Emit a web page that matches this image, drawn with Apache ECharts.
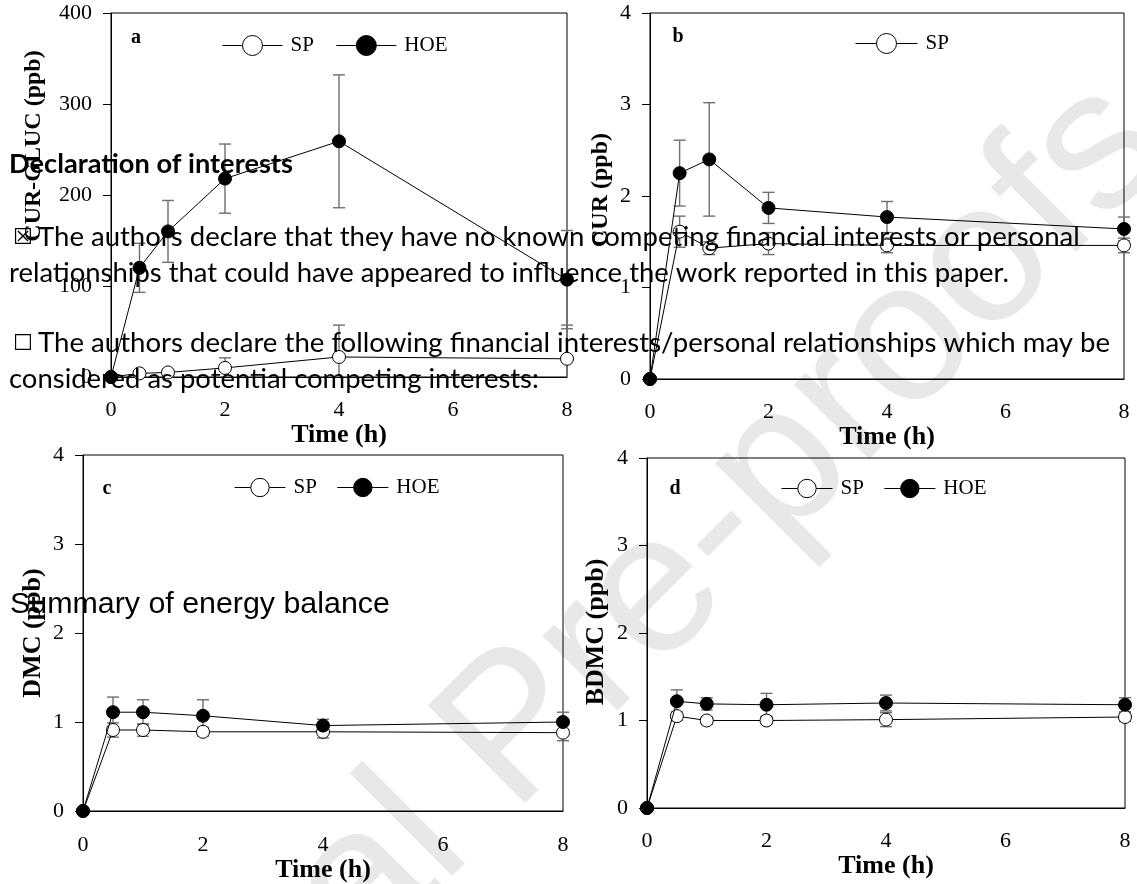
<!DOCTYPE html>
<html>
<head>
<meta charset="utf-8">
<script src="https://cdn.jsdelivr.net/npm/echarts@6/dist/echarts.min.js"></script>
<style>
  html, body { margin: 0; padding: 0; background: #fff; }
  #chart { width: 1137px; height: 884px; }
</style>
</head>
<body>
<div id="chart"></div>
<script>
// sampling times (h)
const times = [0, 0.5, 1, 2, 4, 8];

// a: CUR-GLUC (ppb)
const curGlucSp = [0, 4, 5, 10, 22, 20];
const curGlucSpErr = [0, 3, 3, 11, 35, 37];
const curGlucHoe = [0, 120, 160, 218, 259, 107];
const curGlucHoeErr = [0, 27, 34, 38, 73, 54];

// b: CUR (ppb)
const curSp = [0, 1.61, 1.43, 1.48, 1.46, 1.46];
const curSpErr = [0, 0.17, 0.07, 0.12, 0.08, 0.08];
const curHoe = [0, 2.25, 2.40, 1.87, 1.77, 1.64];
const curHoeErr = [0, 0.36, 0.62, 0.17, 0.17, 0.13];

// c: DMC (ppb)
const dmcSp = [0, 0.91, 0.91, 0.89, 0.89, 0.88];
const dmcSpErr = [0, 0.08, 0.07, 0.05, 0.07, 0.09];
const dmcHoe = [0, 1.11, 1.11, 1.07, 0.96, 1.00];
const dmcHoeErr = [0, 0.17, 0.14, 0.18, 0.07, 0.11];

// d: BDMC (ppb)
const bdmcSp = [0, 1.05, 1.00, 1.00, 1.01, 1.04];
const bdmcSpErr = [0, 0.05, 0.04, 0.04, 0.08, 0.05];
const bdmcHoe = [0, 1.22, 1.19, 1.18, 1.20, 1.18];
const bdmcHoeErr = [0, 0.13, 0.07, 0.13, 0.09, 0.08];

const xTicks = [0, 2, 4, 6, 8];

const serif = "'Liberation Serif', 'Times New Roman', serif";

const panels = [
  {
    letter: "a", yName: "CUR-GLUC (ppb)", yMax: 400, yStep: 100,
    sp: curGlucSp, spErr: curGlucSpErr, hoe: curGlucHoe, hoeErr: curGlucHoeErr,
    legend: ["SP", "HOE"],
    grid: { left: 111, top: 13, width: 456, height: 364 },
    labelMargin: 22, nameGap: 38,
    legendPos: { left: 217, top: 30, itemWidth: 60, itemHeight: 25, itemGap: 22 },
    letterPos: [136, 38], yNamePos: [34, 146], yNameSize: 24,
  },
  {
    letter: "b", yName: "CUR (ppb)", yMax: 4, yStep: 1,
    sp: curSp, spErr: curSpErr, hoe: curHoe, hoeErr: curHoeErr,
    legend: ["SP"],
    grid: { left: 650, top: 13, width: 474, height: 366 },
    labelMargin: 22, nameGap: 36,
    legendPos: { left: 850, top: 28, itemWidth: 62, itemHeight: 25, itemGap: 22 },
    letterPos: [678, 37], yNamePos: [601, 190], yNameSize: 24,
  },
  {
    letter: "c", yName: "DMC (ppb)", yMax: 4, yStep: 1,
    sp: dmcSp, spErr: dmcSpErr, hoe: dmcHoe, hoeErr: dmcHoeErr,
    legend: ["SP", "HOE"],
    grid: { left: 83, top: 455, width: 480, height: 356 },
    labelMargin: 23, nameGap: 41,
    legendPos: { left: 229, top: 472, itemWidth: 51, itemHeight: 23, itemGap: 20 },
    letterPos: [107, 489], yNamePos: [33, 633], yNameSize: 26,
  },
  {
    letter: "d", yName: "BDMC (ppb)", yMax: 4, yStep: 1,
    sp: bdmcSp, spErr: bdmcSpErr, hoe: bdmcHoe, hoeErr: bdmcHoeErr,
    legend: ["SP", "HOE"],
    grid: { left: 647, top: 458, width: 478, height: 350 },
    labelMargin: 22, nameGap: 30,
    legendPos: { left: 776, top: 473, itemWidth: 51, itemHeight: 23, itemGap: 20 },
    letterPos: [675, 489], yNamePos: [596, 632], yNameSize: 26,
  },
];

// overlay text that sits on top of the figure
const declTitle = "Declaration of interests";
const declLines = [
  "The authors declare that they have no known competing financial interests or personal",
  "relationships that could have appeared to influence the work reported in this paper.",
  "The authors declare the following financial interests/personal relationships which may be",
  "considered as potential competing interests:",
];
const summaryText = "Summary of energy balance";
const watermarkText = "Journal Pre-proofs";

const measureCtx = document.createElement("canvas").getContext("2d");
function fitSize(text, weight, family, width) {
  measureCtx.font = weight + " 100px " + family;
  return (100 * width) / measureCtx.measureText(text).width;
}

function errorBars(params, api) {
  const x = api.value(0);
  const y = api.value(1);
  const e = api.value(2);
  if (!e) return null;
  const low = Math.max(y - e, 0);
  const hi = api.coord([x, y + e]);
  const lo = api.coord([x, low]);
  const style = { stroke: "#6e6e6e", lineWidth: 1.4 };
  const children = [
    { type: "line", shape: { x1: hi[0], y1: hi[1], x2: lo[0], y2: lo[1] }, style: style },
    { type: "line", shape: { x1: hi[0] - 6, y1: hi[1], x2: hi[0] + 6, y2: hi[1] }, style: style },
  ];
  if (y - e >= 0) {
    children.push({ type: "line", shape: { x1: lo[0] - 6, y1: lo[1], x2: lo[0] + 6, y2: lo[1] }, style: style });
  }
  return { type: "group", children: children };
}

const pairs = (vals) => times.map((t, i) => [t, vals[i]]);
const triples = (vals, errs) => times.map((t, i) => [t, vals[i], errs[i]]);

let option = {
  animation: false,
  backgroundColor: "#fff",
  grid: [],
  xAxis: [],
  yAxis: [],
  legend: [],
  series: [],
  graphic: [],
};

panels.forEach((p, k) => {
  option.grid.push(Object.assign({ show: true, borderColor: "#000", borderWidth: 1, backgroundColor: "transparent" }, p.grid));
  option.xAxis.push({
    type: "value", gridIndex: k, min: 0, max: 8, interval: 2,
    name: "Time (h)", nameLocation: "middle", nameGap: p.nameGap,
    nameTextStyle: { fontFamily: serif, fontWeight: "bold", fontSize: 26, color: "#000" },
    axisLine: { show: true, lineStyle: { color: "#000", width: 1 } },
    axisTick: { show: false },
    splitLine: { show: false },
    axisLabel: {
      margin: p.labelMargin, fontFamily: serif, fontSize: 22, color: "#000",
      formatter: (v) => (xTicks.indexOf(v) >= 0 ? String(v) : ""),
    },
  });
  option.yAxis.push({
    type: "value", gridIndex: k, min: 0, max: p.yMax, interval: p.yStep,
    axisLine: { show: true, lineStyle: { color: "#000", width: 1 } },
    axisTick: { show: true, inside: false, length: 8, lineStyle: { color: "#000" } },
    splitLine: { show: false },
    axisLabel: { margin: 19, fontFamily: serif, fontSize: 22, color: "#000" },
  });
  option.legend.push({
    data: p.legend,
    left: p.legendPos.left, top: p.legendPos.top,
    itemWidth: p.legendPos.itemWidth, itemHeight: p.legendPos.itemHeight,
    itemGap: p.legendPos.itemGap,
    selectedMode: false,
    itemStyle: { borderColor: "#000", borderWidth: 1 },
    lineStyle: { color: "#000", width: 1 },
    textStyle: { fontFamily: serif, fontSize: 21, color: "#000", padding: [0, 0, 0, 3] },
  });
  option.series.push(
    {
      type: "custom", name: "SP err", xAxisIndex: k, yAxisIndex: k, z: 1,
      renderItem: errorBars, data: triples(p.sp, p.spErr), silent: true,
    },
    {
      type: "custom", name: "HOE err", xAxisIndex: k, yAxisIndex: k, z: 1,
      renderItem: errorBars, data: triples(p.hoe, p.hoeErr), silent: true,
    },
    {
      type: "line", name: "SP", xAxisIndex: k, yAxisIndex: k, z: 3,
      data: pairs(p.sp), symbol: "circle", symbolSize: 13, clip: false,
      lineStyle: { color: "#000", width: 1 },
      itemStyle: { color: "#fff", borderColor: "#000", borderWidth: 1 },
    },
    {
      type: "line", name: "HOE", xAxisIndex: k, yAxisIndex: k, z: 4,
      data: pairs(p.hoe), symbol: "circle", symbolSize: 13, clip: false,
      lineStyle: { color: "#000", width: 1 },
      itemStyle: { color: "#000", borderColor: "#000", borderWidth: 1 },
    }
  );
  option.graphic.push(
    {
      type: "text", x: p.letterPos[0], y: p.letterPos[1], z: 10,
      style: { text: p.letter, font: "bold 20px " + serif, fill: "#000", align: "center", verticalAlign: "middle" },
    },
    {
      type: "text", x: p.yNamePos[0], y: p.yNamePos[1], rotation: Math.PI / 2, z: 10,
      style: { text: p.yName, font: "bold " + p.yNameSize + "px " + serif, fill: "#000", align: "center", verticalAlign: "middle" },
    }
  );
});

// watermark behind everything
option.graphic.push({
  type: "text", x: 553, y: 697, rotation: Math.PI / 4, z: -10, silent: true,
  style: { text: watermarkText, font: "200px 'Liberation Sans', Arial, sans-serif", fill: "#e8e8e8", align: "center", verticalAlign: "middle" },
});

// declaration text block (baseline positions)
const calibri = "Lato, 'Open Sans', sans-serif";
function overlayText(text, x, baseline, width, weight, family) {
  const size = fitSize(text, weight, family, width);
  return {
    type: "text", x: x, y: baseline - size * 0.34, z: 20, silent: true,
    style: { text: text, font: weight + " " + size.toFixed(2) + "px " + family, fill: "#000", align: "left", verticalAlign: "middle" },
  };
}
option.graphic.push(
  overlayText(declTitle, 9, 173, 284, "bold", calibri),
  overlayText(declLines[0], 38, 246, 1042, "normal", calibri),
  overlayText(declLines[1], 9, 282, 1000, "normal", calibri),
  overlayText(declLines[2], 38, 352, 1072, "normal", calibri),
  overlayText(declLines[3], 9, 388, 530, "normal", calibri),
  overlayText(summaryText, 10, 615, 380, "normal", "'Liberation Sans', Arial, sans-serif"),
  {
    type: "text", x: 13, y: 238, z: 20, silent: true,
    style: { text: "\u2612", font: "22px 'DejaVu Sans'", fill: "#000", align: "left", verticalAlign: "middle" },
  },
  {
    type: "text", x: 13, y: 344, z: 20, silent: true,
    style: { text: "\u2610", font: "22px 'DejaVu Sans'", fill: "#000", align: "left", verticalAlign: "middle" },
  }
);

let chart = echarts.init(document.getElementById("chart"), null, { renderer: "canvas" });
chart.setOption(option);
</script>
</body>
</html>
